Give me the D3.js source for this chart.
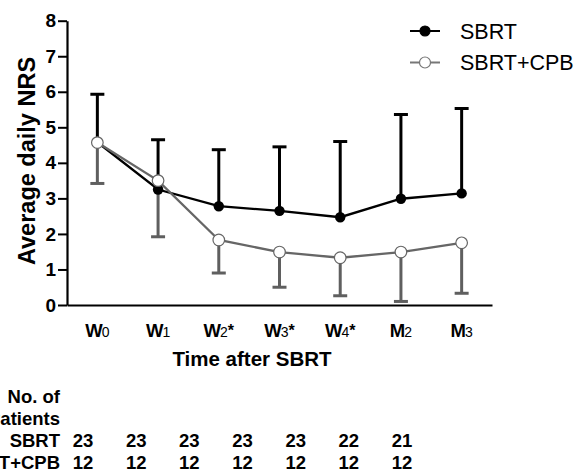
<!DOCTYPE html>
<html>
<head>
<meta charset="utf-8">
<script src="https://cdn.jsdelivr.net/npm/d3@7"></script>
<style>
    body { margin: 0; background: #fff; }
    text { font-family: "Liberation Sans", Arial, sans-serif; }
</style>
</head>
<body>
<div id="chart"></div>
<script>
// time points
let timepoints = ["W0", "W1", "W2", "W3", "W4", "M2", "M3"];
let tickLetters = ["W", "W", "W", "W", "W", "M", "M"];
let tickSubs = ["0", "1", "2", "3", "4", "2", "3"];
let tickStars = ["", "", "*", "*", "*", "", ""];

// SBRT group: mean and upper SD
let sbrtMean = [4.58, 3.25, 2.78, 2.65, 2.47, 2.99, 3.14];
let sbrtUpper = [5.93, 4.65, 4.37, 4.45, 4.60, 5.36, 5.53];

// SBRT+CPB group: mean and lower SD
let cpbMean = [4.57, 3.50, 1.83, 1.49, 1.33, 1.49, 1.75];
let cpbLower = [3.42, 1.92, 0.90, 0.50, 0.26, 0.10, 0.33];

// patient counts
let sbrtN = [23, 23, 23, 23, 23, 22, 21];
let cpbN = [12, 12, 12, 12, 12, 12, 12];

let yTicks = [0, 1, 2, 3, 4, 5, 6, 7, 8];

let grey = "#5f5f5f";

let svg = d3.select("#chart").append("svg")
    .attr("width", 579)
    .attr("height", 472);

let x = d3.scaleBand().domain(timepoints).range([67, 492]);
let y = d3.scaleLinear().domain([0, 8]).range([305, 20.7]);
let col = d3.scalePoint().domain(timepoints).range([83, 402]);

let cx = d => x(d) + x.bandwidth() / 2;

// y axis
let yAxis = svg.append("g")
    .attr("transform", "translate(67,0)")
    .call(d3.axisLeft(y).tickValues(yTicks).tickSize(9).tickPadding(2).tickSizeOuter(0));
yAxis.select(".domain").attr("stroke", "#000").attr("stroke-width", 2.2);
yAxis.selectAll(".tick line").attr("stroke", "#000").attr("stroke-width", 2);
yAxis.selectAll(".tick text")
    .attr("font-size", 19).attr("font-weight", "bold").attr("fill", "#000")
    .attr("font-family", "Liberation Sans, Arial, sans-serif");

// x axis line only
let xAxis = svg.append("g")
    .attr("transform", "translate(0,305)")
    .call(d3.axisBottom(x).tickSize(0).tickFormat(""));
xAxis.select(".domain").attr("stroke", "#000").attr("stroke-width", 2.2);

// x tick labels with subscripts
let xl = svg.append("g").selectAll("text").data(timepoints).join("text")
    .attr("x", d => cx(d))
    .attr("y", 337)
    .attr("text-anchor", "middle")
    .attr("font-weight", "bold")
    .attr("font-size", 18.5);
xl.append("tspan").text((d, i) => tickLetters[i]).attr("letter-spacing", -1);
xl.append("tspan").text((d, i) => tickSubs[i]).attr("font-size", 14).attr("font-weight", "normal");
xl.append("tspan").text((d, i) => tickStars[i]).attr("font-size", 16).attr("dy", -1);

svg.append("text")
    .attr("x", 252).attr("y", 366)
    .attr("text-anchor", "middle")
    .attr("font-weight", "bold").attr("font-size", 20.5)
    .text("Time after SBRT");

svg.append("text")
    .attr("transform", "translate(35,161) rotate(-90)")
    .attr("text-anchor", "middle")
    .attr("font-weight", "bold").attr("font-size", 23.5)
    .text("Average daily NRS");

// error bars
let cap = 7;
let sbrtBars = svg.append("g").attr("stroke", "#000").attr("stroke-width", 3);
timepoints.forEach((t, i) => {
    sbrtBars.append("line").attr("x1", cx(t)).attr("x2", cx(t)).attr("y1", y(sbrtMean[i])).attr("y2", y(sbrtUpper[i]));
    sbrtBars.append("line").attr("x1", cx(t) - cap).attr("x2", cx(t) + cap).attr("y1", y(sbrtUpper[i])).attr("y2", y(sbrtUpper[i]));
});
let cpbBars = svg.append("g").attr("stroke", grey).attr("stroke-width", 3);
timepoints.forEach((t, i) => {
    cpbBars.append("line").attr("x1", cx(t)).attr("x2", cx(t)).attr("y1", y(cpbMean[i])).attr("y2", y(cpbLower[i]));
    cpbBars.append("line").attr("x1", cx(t) - cap).attr("x2", cx(t) + cap).attr("y1", y(cpbLower[i])).attr("y2", y(cpbLower[i]));
});

// lines
let line = d3.line().x(d => cx(d.t)).y(d => y(d.v));
svg.append("path")
    .datum(timepoints.map((t, i) => ({t: t, v: sbrtMean[i]})))
    .attr("d", line).attr("fill", "none").attr("stroke", "#000").attr("stroke-width", 2.3);
svg.append("path")
    .datum(timepoints.map((t, i) => ({t: t, v: cpbMean[i]})))
    .attr("d", line).attr("fill", "none").attr("stroke", "#666").attr("stroke-width", 2.3);

// markers
svg.append("g").selectAll("circle").data(timepoints).join("circle")
    .attr("cx", d => cx(d)).attr("cy", (d, i) => y(sbrtMean[i]))
    .attr("r", 5.2).attr("fill", "#000");
svg.append("g").selectAll("circle").data(timepoints).join("circle")
    .attr("cx", d => cx(d)).attr("cy", (d, i) => y(cpbMean[i]))
    .attr("r", 5.8).attr("fill", "#fff").attr("stroke", "#666").attr("stroke-width", 1.2);

// legend
let legend = [
    {name: "SBRT", y: 31, fill: "#000", stroke: "#000", r: 5},
    {name: "SBRT+CPB", y: 62.5, fill: "#fff", stroke: "#777", r: 5.5}
];
let lg = svg.append("g").selectAll("g").data(legend).join("g");
lg.append("line")
    .attr("x1", 410).attr("x2", 440).attr("y1", d => d.y).attr("y2", d => d.y)
    .attr("stroke", d => d.stroke).attr("stroke-width", 2);
lg.append("circle")
    .attr("cx", 425).attr("cy", d => d.y).attr("r", d => d.r)
    .attr("fill", d => d.fill).attr("stroke", d => d.stroke).attr("stroke-width", 1.2);
lg.append("text")
    .attr("x", 460).attr("y", d => d.y + 7.5)
    .attr("font-size", 21.5)
    .text(d => d.name);

// patient table
let rowLabels = ["No. of", "Patients", "SBRT", "SBRT+CPB"];
let rowY = [403, 425, 447, 469];
svg.append("g").selectAll("text").data(rowLabels).join("text")
    .attr("x", 60).attr("y", (d, i) => rowY[i])
    .attr("text-anchor", "end")
    .attr("font-weight", "bold").attr("font-size", 18.5)
    .text(d => d);

[sbrtN, cpbN].forEach((row, r) => {
    svg.append("g").selectAll("text").data(row).join("text")
        .attr("x", (d, i) => col(timepoints[i]))
        .attr("y", rowY[r + 2])
        .attr("text-anchor", "middle")
        .attr("font-weight", "bold").attr("font-size", 18.5)
        .text(d => d);
});
</script>
</body>
</html>
